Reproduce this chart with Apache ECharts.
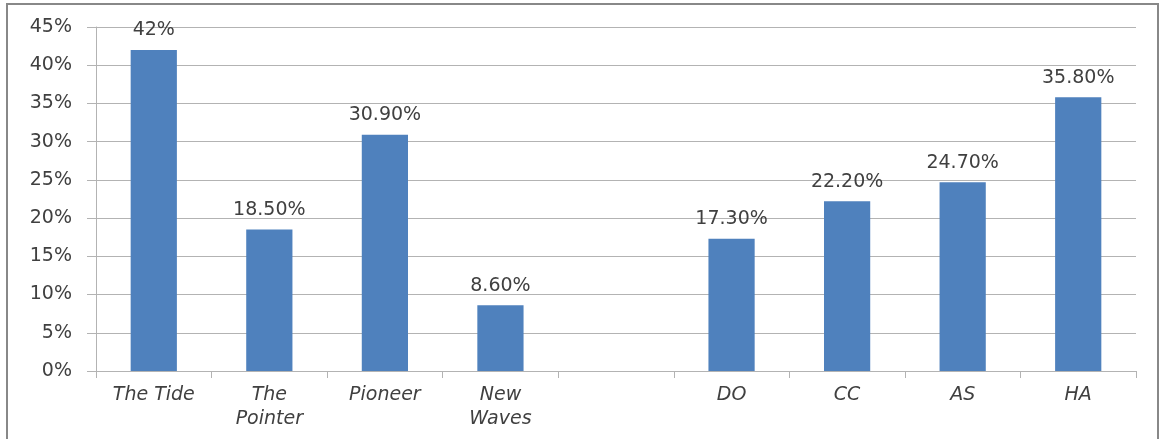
<!DOCTYPE html>
<html>
<head>
<meta charset="utf-8">
<script src="https://cdn.jsdelivr.net/npm/echarts@6/dist/echarts.min.js"></script>
<style>
  html, body { margin: 0; padding: 0; background: #fff; }
  #chart { width: 1164px; height: 439px; }
</style>
</head>
<body>
<div id="chart"></div>
<script>
// Categories (the blank entry leaves a gap between the two groups)
const categories = ['The Tide', 'The\nPointer', 'Pioneer', 'New\nWaves', '', 'DO', 'CC', 'AS', 'HA'];
// Percent values per category
const values = [42, 18.5, 30.9, 8.6, null, 17.3, 22.2, 24.7, 35.8];
// Y axis range and step (percent)
const yMin = 0, yMax = 45, yStep = 5;

const textColor = '#404040';
const lineColor = '#b3b3b3';
const font = 'DejaVu Sans';

const chart = echarts.init(document.getElementById('chart'), null, { renderer: 'canvas' });
chart.setOption({
  animation: false,
  backgroundColor: '#ffffff',
  grid: { left: 96, right: 28, top: 27, bottom: 68, containLabel: false },
  graphic: [{
    type: 'rect',
    shape: { x: 7, y: 4, width: 1151, height: 480 },
    style: { fill: 'none', stroke: '#888888', lineWidth: 2 },
    silent: true
  }],
  xAxis: {
    type: 'category',
    data: categories,
    boundaryGap: true,
    axisLine: { show: true, lineStyle: { color: lineColor, width: 1 } },
    axisTick: { show: true, alignWithLabel: false, length: 7, lineStyle: { color: lineColor } },
    axisLabel: {
      interval: 0,
      color: textColor,
      fontFamily: font,
      fontStyle: 'italic',
      fontSize: 19,
      lineHeight: 24,
      margin: 12
    },
    splitLine: { show: false }
  },
  yAxis: {
    type: 'value',
    min: yMin,
    max: yMax,
    interval: yStep,
    axisLine: { show: true, lineStyle: { color: lineColor, width: 1 } },
    axisTick: { show: true, inside: false, length: 9, lineStyle: { color: lineColor } },
    axisLabel: {
      color: textColor,
      fontFamily: font,
      fontSize: 19,
      margin: 24,
      formatter: v => v + '%'
    },
    splitLine: { show: true, lineStyle: { color: lineColor, width: 1 } }
  },
  series: [{
    type: 'bar',
    data: values,
    barWidth: '40%',
    itemStyle: { color: '#4f81bd' },
    label: {
      show: true,
      position: 'top',
      distance: 10,
      color: textColor,
      fontFamily: font,
      fontSize: 19,
      formatter: p => p.value == null ? '' :
        (Number.isInteger(p.value) ? p.value + '%' : p.value.toFixed(2) + '%')
    }
  }]
});
</script>
</body>
</html>
